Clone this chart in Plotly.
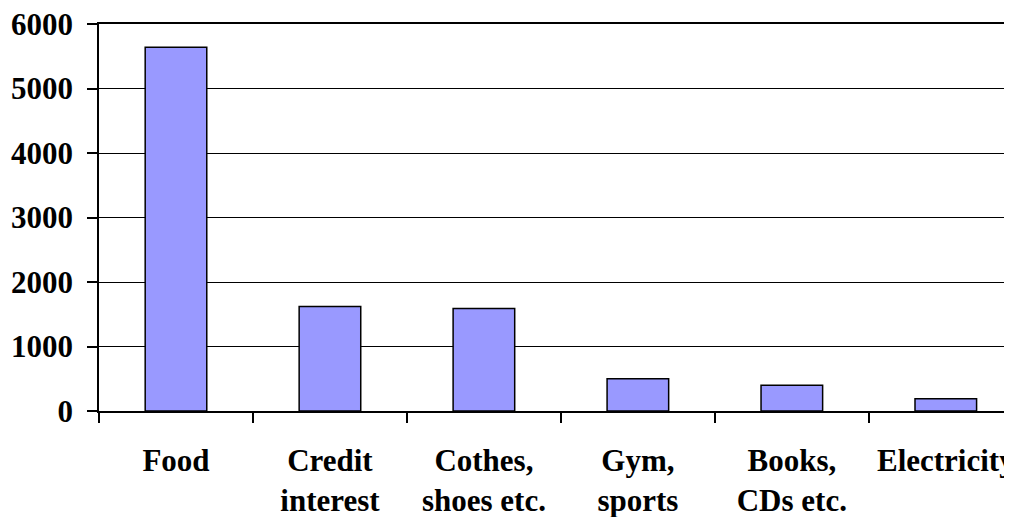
import plotly.graph_objects as go

# ── Data ──────────────────────────────────────────────────────────────────────
categories = ["Food", "Credit<br>interest", "Cothes,<br>shoes etc.",
              "Gym,<br>sports", "Books,<br>CDs etc.", "Electricity"]
amounts = [5640, 1620, 1590, 500, 400, 190]
y_ticks = [0, 1000, 2000, 3000, 4000, 5000, 6000]

BAR = "#9999FF"
BLACK = "#000000"
FONT = "Liberation Serif"
FS = 31

fig = go.Figure(go.Bar(
    x=categories, y=amounts,
    width=0.4,
    marker=dict(color=BAR, line=dict(color=BLACK, width=1.5)),
))

# page body has an 8px margin, so margins are offset by it
fig.update_layout(
    width=1012, height=517,
    paper_bgcolor="white", plot_bgcolor="white",
    margin=dict(l=91, r=8, t=16, b=114),
    font=dict(family=FONT, size=FS, color=BLACK),
    showlegend=False,
    xaxis=dict(
        range=[-0.5, 5.43], automargin=False,
        showline=True, mirror=True, linecolor=BLACK, linewidth=1.5,
        ticks="outside", tickson="boundaries", ticklen=10, tickwidth=1.5,
        tickcolor=BLACK, showgrid=False, ticklabelstandoff=21,
        ticklabeloverflow="allow",
        tickfont=dict(family=FONT, size=FS, color=BLACK, weight="bold"),
    ),
    yaxis=dict(
        range=[0, 6000], tickvals=y_ticks, automargin=False,
        showline=True, linecolor=BLACK, linewidth=1.5,
        ticks="outside", ticklen=10, tickwidth=1.5, tickcolor=BLACK,
        showgrid=True, gridcolor=BLACK, gridwidth=1.2,
        zeroline=False, ticklabelstandoff=8,
        ticklabeloverflow="allow",
        tickfont=dict(family=FONT, size=FS, color=BLACK, weight="bold"),
    ),
)

fig.write_html("out.html")
